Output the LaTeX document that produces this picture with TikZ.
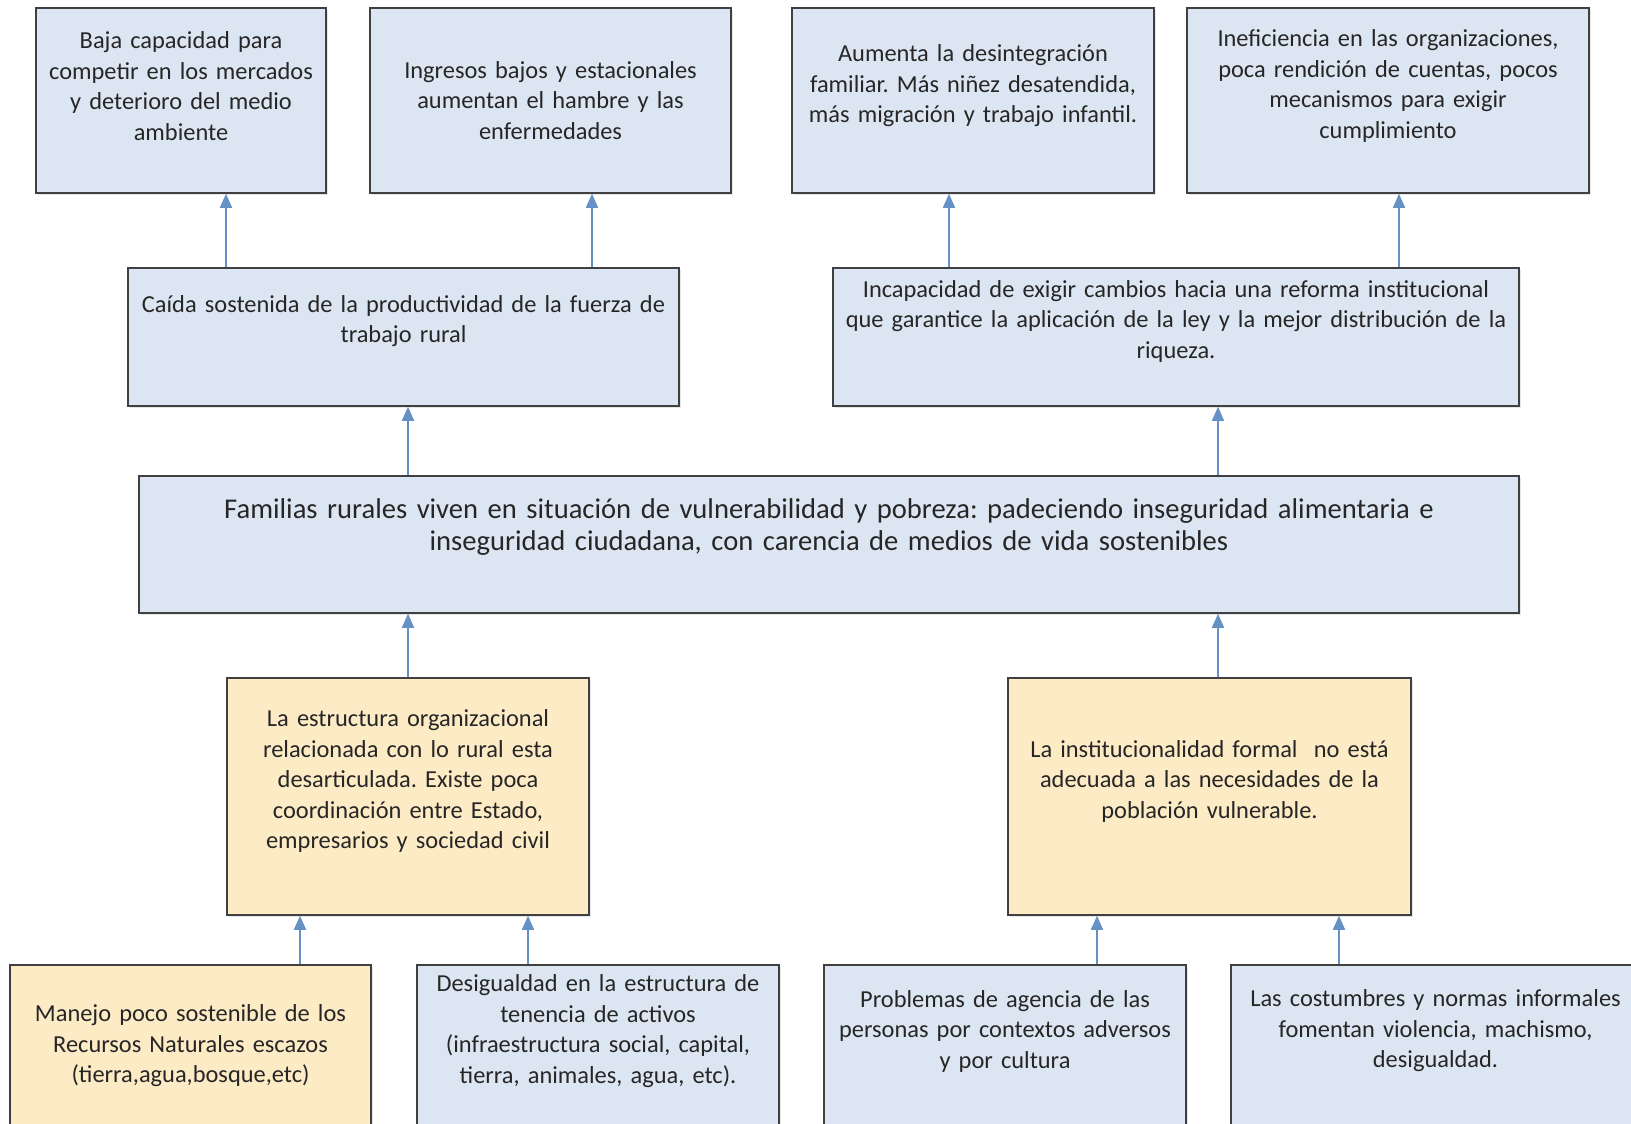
\documentclass[tikz,border=0pt]{standalone}
\usepackage{fontspec}
\setmainfont{Carlito}
\usepackage{xcolor}
\usetikzlibrary{arrows.meta, positioning, shadows}

\definecolor{cajaazul}{HTML}{DCE6F2}
\definecolor{cajaamarilla}{HTML}{FDEBC6}
\definecolor{borde}{HTML}{404040}
\definecolor{azulflecha}{HTML}{6591C4}

\newcommand{\espaciofinal}[1]{\endgraf\vspace*{#1}}
\frenchspacing

\begin{document}
\begin{tikzpicture}[
        x=1pt, y=-1pt,
        caja/.style={
                draw=borde,
                line width=1.5pt,
                fill=cajaazul,
                align=center,
                inner xsep=4pt,
                inner ysep=0pt,
                text=black!85,
                drop shadow={shadow xshift=2pt, shadow yshift=-2pt, opacity=0.2},
                font=\fontsize{24.4}{30.5}\selectfont
            },
        amarilla/.style={caja, fill=cajaamarilla},
        subir/.style={execute at end node={\espaciofinal{#1}}},
        flecha/.style={draw=azulflecha, line width=1.6pt, -{Triangle[width=12pt,length=14pt]}}
    ]
    \useasboundingbox (0,0) rectangle (1631,1124);

    % efectos
    \node[caja, text width=282pt, minimum height=185pt, subir=29pt] (b1) at (181,100.5)
        {Baja capacidad para\\ competir en los mercados\\ y deterioro del medio\\ ambiente};
    \node[caja, text width=353pt, minimum height=185pt] (b2) at (550.5,100.5)
        {Ingresos bajos y estacionales\\ aumentan el hambre y las\\ enfermedades};
    \node[caja, text width=354pt, minimum height=185pt, subir=29pt] (b3) at (973,100.5)
        {Aumenta la desintegración\\ familiar. Más niñez desatendida,\\ más migración y trabajo infantil.};
    \node[caja, text width=394pt, minimum height=185pt, subir=29pt] (b4) at (1388,100.5)
        {Ineficiencia en las organizaciones,\\ poca rendición de cuentas, pocos\\ mecanismos para exigir\\ cumplimiento};

    \node[caja, text width=543pt, minimum height=138pt, subir=32pt] (c1) at (403.5,337)
        {Caída sostenida de la productividad de la fuerza de\\ trabajo rural};
    \node[caja, text width=678pt, minimum height=138pt, subir=32pt] (c2) at (1176,337)
        {Incapacidad de exigir cambios hacia una reforma institucional\\ que garantice la aplicación de la ley y la mejor distribución de la\\ riqueza.};

    % problema central
    \node[caja, text width=1372pt, minimum height=137pt, subir=35pt,
        font=\fontsize{28.6}{32.5}\selectfont] (central) at (829,544.5)
        {Familias rurales viven en situación de vulnerabilidad y pobreza: padeciendo inseguridad alimentaria e\\ inseguridad ciudadana, con carencia de medios de vida sostenibles};

    % causas
    \node[amarilla, text width=354pt, minimum height=237pt, subir=31pt] (y1) at (408,796.5)
        {La estructura organizacional\\ relacionada con lo rural esta\\ desarticulada. Existe poca\\ coordinación entre Estado,\\ empresarios y sociedad civil};
    \node[amarilla, text width=395pt, minimum height=237pt, subir=31pt] (y2) at (1209.5,796.5)
        {La institucionalidad formal\ \ no está\\ adecuada a las necesidades de la\\ población vulnerable.};

    \node[amarilla, text width=353pt, minimum height=185pt, subir=23pt] (d1) at (190.5,1057.5)
        {Manejo poco sostenible de los\\ Recursos Naturales escazos\\ (tierra,agua,bosque,etc)};
    \node[caja, text width=354pt, minimum height=185pt, subir=53pt] (d2) at (598,1057.5)
        {Desigualdad en la estructura de\\ tenencia de activos\\ (infraestructura social, capital,\\ tierra, animales, agua, etc).};
    \node[caja, text width=354pt, minimum height=185pt, subir=53pt] (d3) at (1005,1057.5)
        {Problemas de agencia de las\\ personas por contextos adversos\\ y por cultura};
    \node[caja, text width=401pt, minimum height=185pt, subir=53pt] (d4) at (1435.5,1057.5)
        {Las costumbres y normas informales\\ fomentan violencia, machismo,\\ desigualdad.};

    \foreach \desde/\hasta/\x in {c1/b1/226, c1/b2/592, c2/b3/949, c2/b4/1399,
            central/c1/408, central/c2/1218, y1/central/408, y2/central/1218,
            d1/y1/300, d2/y1/528, d3/y2/1097, d4/y2/1339}
        \draw[flecha] (\desde.north -| \x,0) -- (\hasta.south -| \x,0);
\end{tikzpicture}
\end{document}
